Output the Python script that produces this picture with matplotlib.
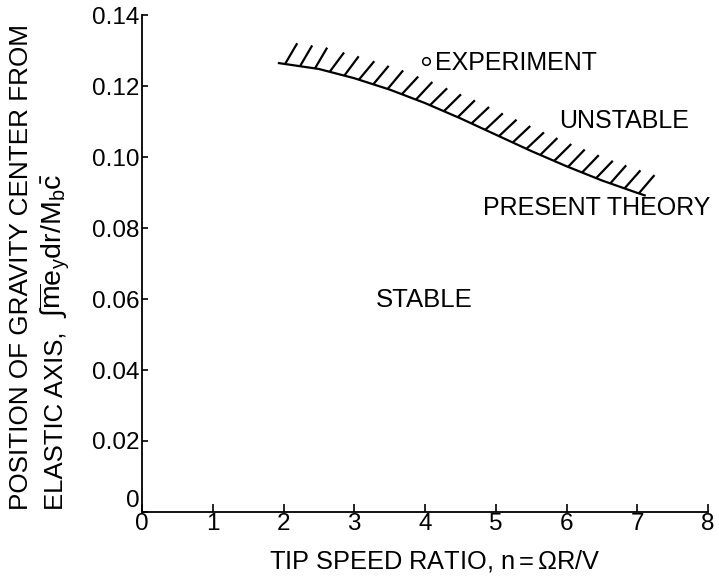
import matplotlib
matplotlib.use("Agg")
import matplotlib.pyplot as plt
from matplotlib import patheffects

# === Data ===
theory_x = [1.92, 2.5, 3.0, 3.5, 4.0, 4.5, 5.0, 5.5, 6.0, 6.5, 7.0, 7.12]
theory_y = [0.1265, 0.1248, 0.1222, 0.1190, 0.1152, 0.1109, 0.1063, 0.1017, 0.0974, 0.0934, 0.0899, 0.0891]

experiment_x = [4.01]
experiment_y = [0.127]

x_ticks = [0, 1, 2, 3, 4, 5, 6, 7, 8]
y_ticks = [0, 0.02, 0.04, 0.06, 0.08, 0.10, 0.12, 0.14]
y_tick_labels = ["0", "0.02", "0.04", "0.06", "0.08", "0.10", "0.12", "0.14"]

# === Style ===
plt.rcParams["font.family"] = ["Liberation Sans", "DejaVu Sans"]
plt.rcParams["mathtext.fontset"] = "custom"
plt.rcParams["mathtext.rm"] = "Liberation Sans"
plt.rcParams["mathtext.it"] = "Liberation Sans"
plt.rcParams["mathtext.bf"] = "Liberation Sans:bold"

fig = plt.figure(figsize=(7.19, 5.78), dpi=100)
ax = fig.add_axes([0.1975, 0.1142, 0.7872, 0.8598])

# theory boundary, hatched on the unstable side
ax.plot(theory_x, theory_y, color="black", lw=1.6, solid_capstyle="butt",
        path_effects=[patheffects.withTickedStroke(spacing=10.5, angle=68, length=1.65)])

ax.plot(experiment_x, experiment_y, "o", ms=5.5, mfc="white", mec="black", mew=1.1)

ax.text(4.14, 0.1245, "EXPERIMENT", fontsize=18, va="baseline", ha="left")
ax.text(5.90, 0.1082, "UNSTABLE", fontsize=18, va="baseline", ha="left")
ax.text(4.82, 0.0837, "PRESENT THEORY", fontsize=18, va="baseline", ha="left")
ax.text(3.31, 0.0577, "STABLE", fontsize=18.5, va="baseline", ha="left")

ax.set_xlim(0, 8)
ax.set_ylim(0, 0.14)
ax.set_xticks(x_ticks)
ax.set_xticklabels([str(t) for t in x_ticks])
ax.set_yticks(y_ticks)
ax.set_yticklabels(y_tick_labels)
ax.get_yticklabels()[0].set_va("bottom")

ax.spines["top"].set_visible(False)
ax.spines["right"].set_visible(False)
ax.spines["left"].set_linewidth(1.3)
ax.spines["bottom"].set_linewidth(1.3)
ax.tick_params(axis="x", direction="in", length=6, width=1.2, labelsize=17.5, pad=1)
ax.tick_params(axis="y", direction="in", length=4, width=1.2, labelsize=17.5, pad=2)

fig.text(435 / 719, 1 - 568 / 578, r"TIP SPEED RATIO, n$=\Omega$R/V", fontsize=18.3,
         ha="center", va="baseline")

# y label, two rotated lines
fig.text(28 / 719, 1 - 510 / 578, "POSITION OF GRAVITY CENTER FROM", fontsize=18.8,
         rotation=90, rotation_mode="anchor", ha="left", va="baseline")
fig.text(62 / 719, 1 - 510 / 578, "ELASTIC AXIS,", fontsize=18.5,
         rotation=90, rotation_mode="anchor", ha="left", va="baseline")
fig.text(62 / 719, 1 - 318 / 578, r"$\int\overline{\mathrm{m}}\mathrm{e_y dr/M_b}\bar{\mathrm{c}}$",
         fontsize=20.5, rotation=90, rotation_mode="anchor", ha="left", va="baseline")

fig.savefig("out.png", dpi=100)
